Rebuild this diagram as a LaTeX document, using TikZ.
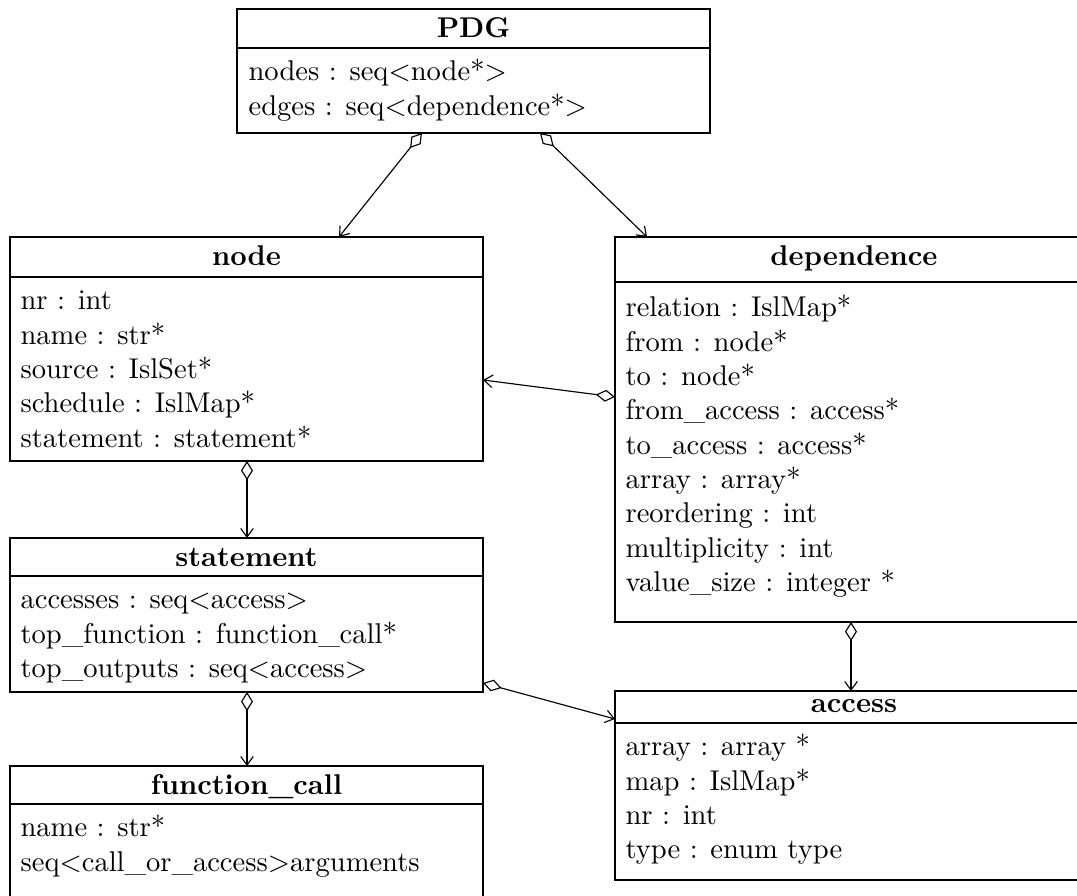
\documentclass[tikz,border=0pt]{standalone}
\usetikzlibrary{arrows.meta,calc,fit}
\begin{document}
\begin{tikzpicture}[x=0.35pt,y=-0.35pt,
  classbox/.style={draw, line width=0.5pt, inner sep=0pt, outer sep=0pt},
  sepline/.style={line width=0.5pt},
  title/.style={font=\bfseries, inner sep=0pt, anchor=base},
  attr/.style={inner sep=0pt, anchor=base west},
  aggr/.style={line width=0.4pt,
    arrows={Diamond[open,length=6.7pt,width=4.2pt]-Straight Barb[length=3pt,width=4.4pt]}}]
\useasboundingbox (0,0) rectangle (1077,896);
\clip (0,0) rectangle (1077,896);

% class boxes
\node[classbox, fit={(237,9) (710,133)}] (pdg) {};
\node[classbox, fit={(10,237) (483,461)}] (nodecls) {};
\node[classbox, fit={(615,237) (1093,622)}] (dep) {};
\node[classbox, fit={(10,538) (483,692)}] (stmt) {};
\node[classbox, fit={(615,691) (1093,880)}] (acc) {};
\node[classbox, fit={(10,766) (483,940)}] (fcall) {};

% title separators
\coordinate (pdg-sep) at (0,48);
\coordinate (nodecls-sep) at (0,277);
\coordinate (dep-sep) at (0,282);
\coordinate (stmt-sep) at (0,576);
\coordinate (acc-sep) at (0,723);
\coordinate (fcall-sep) at (0,804);
\foreach \b in {pdg,nodecls,dep,stmt,acc,fcall}
  \draw[sepline] (\b.west |- \b-sep) -- (\b.east |- \b-sep);

% titles
\node[title] (pdg-t) at (473.5,38) {PDG};
\node[title] (nodecls-t) at (246.5,266) {node};
\node[title] (dep-t) at (854,266) {dependence};
\node[title] (stmt-t) at (246.5,567) {statement};
\node[title] (acc-t) at (854,713) {access};
\node[title] (fcall-t) at (246.5,795) {function\_call};

% attributes
\foreach \txt [count=\i] in {nodes : seq$<$node*$>$, edges : seq$<$dependence*$>$}
  \node[attr] (pdg-a\i) at (248,{81+(\i-1)*34.3}) {\txt};
\foreach \txt [count=\i] in {nr : int, name : str*, source : IslSet*,
    schedule : IslMap*, statement : statement*}
  \node[attr] (nodecls-a\i) at (20,{310+(\i-1)*34.3}) {\txt};
\foreach \txt [count=\i] in {relation : IslMap*, from : node*, to : node*,
    from\_access : access*, to\_access : access*, array : array*,
    reordering : int, multiplicity : int, value\_size : integer *}
  \node[attr] (dep-a\i) at (625,{317+(\i-1)*34.3}) {\txt};
\foreach \txt [count=\i] in {accesses : seq$<$access$>$,
    top\_function : function\_call*, top\_outputs : seq$<$access$>$}
  \node[attr] (stmt-a\i) at (20,{609+(\i-1)*34.3}) {\txt};
\foreach \txt [count=\i] in {array : array *, map : IslMap*, nr : int, type : enum type}
  \node[attr] (acc-a\i) at (625,{756+(\i-1)*34.3}) {\txt};
\foreach \txt [count=\i] in {name : str*, seq$<$call\_or\_access$>$arguments}
  \node[attr] (fcall-a\i) at (20,{837+(\i-1)*34.3}) {\txt};

% aggregations
\draw[aggr] ($(pdg.south west)+(185,0)$) -- ($(nodecls.north west)+(329,0)$);
\draw[aggr] ($(pdg.south west)+(303,0)$) -- ($(dep.north west)+(32,0)$);
\draw[aggr] ($(dep.north west)+(0,160)$) -- ($(nodecls.north east)+(0,143)$);
\draw[aggr] ($(nodecls.south west)+(237,0)$) -- ($(stmt.north west)+(237,0)$);
\draw[aggr] ($(stmt.south west)+(237,0)$) -- ($(fcall.north west)+(237,0)$);
\draw[aggr] ($(stmt.north east)+(0,145)$) -- ($(acc.north west)+(0,28)$);
\draw[aggr] ($(dep.south west)+(236,0)$) -- ($(acc.north west)+(236,0)$);
\end{tikzpicture}
\end{document}
